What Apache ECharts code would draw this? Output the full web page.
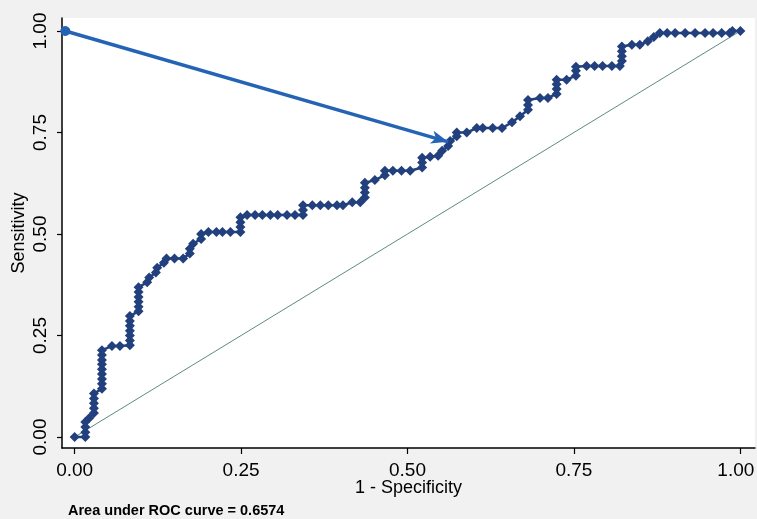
<!DOCTYPE html>
<html>
<head>
<meta charset="utf-8">
<script src="https://cdn.jsdelivr.net/npm/echarts@6/dist/echarts.min.js"></script>
<style>
html,body{margin:0;padding:0;background:#f1f1f1;}
#c{width:757px;height:519px;}
</style>
</head>
<body>
<div id="c"></div>
<script>
const tickValues = [0, 0.25, 0.5, 0.75, 1];
const rocX = [0.000,0.016,0.016,0.016,0.016,0.022,0.029,0.029,0.029,0.029,0.029,0.041,0.041,0.041,0.041,0.041,0.041,0.041,0.041,0.041,
0.056,0.068,0.083,0.083,0.083,0.083,0.083,0.083,0.083,0.096,0.096,0.096,0.096,0.096,0.096,0.109,0.112,0.122,0.124,0.134,
0.138,0.150,0.163,0.173,0.173,0.178,0.190,0.190,0.201,0.213,0.222,0.234,0.249,0.249,0.249,0.249,0.259,0.271,0.282,0.294,
0.305,0.319,0.331,0.343,0.343,0.343,0.357,0.369,0.381,0.394,0.403,0.417,0.429,0.436,0.436,0.436,0.436,0.451,0.466,0.466,
0.478,0.491,0.504,0.522,0.522,0.522,0.534,0.546,0.552,0.561,0.564,0.574,0.574,0.589,0.604,0.613,0.628,0.642,0.657,0.669,
0.681,0.681,0.681,0.699,0.711,0.724,0.724,0.724,0.724,0.739,0.753,0.753,0.753,0.769,0.781,0.793,0.807,0.819,0.822,0.822,
0.822,0.822,0.837,0.849,0.861,0.870,0.879,0.890,0.902,0.917,0.932,0.947,0.959,0.972,0.984,0.988,1.000];
const rocY = [0.000,0.000,0.012,0.025,0.037,0.047,0.059,0.071,0.083,0.095,0.107,0.119,0.131,0.143,0.155,0.167,0.179,0.190,0.202,0.214,
0.224,0.224,0.226,0.238,0.250,0.262,0.274,0.286,0.298,0.310,0.321,0.333,0.345,0.357,0.369,0.381,0.393,0.405,0.417,0.429,
0.440,0.440,0.440,0.452,0.464,0.476,0.488,0.500,0.505,0.505,0.505,0.505,0.505,0.517,0.529,0.541,0.547,0.547,0.547,0.547,
0.547,0.547,0.547,0.547,0.559,0.571,0.571,0.571,0.571,0.571,0.571,0.578,0.578,0.590,0.602,0.614,0.626,0.633,0.645,0.656,
0.656,0.656,0.656,0.664,0.676,0.688,0.690,0.693,0.705,0.717,0.729,0.741,0.750,0.750,0.761,0.761,0.761,0.761,0.775,0.790,
0.806,0.818,0.830,0.835,0.835,0.845,0.857,0.869,0.880,0.880,0.890,0.902,0.912,0.914,0.914,0.914,0.914,0.914,0.926,0.938,
0.950,0.962,0.966,0.966,0.975,0.985,0.995,0.995,0.995,0.995,0.995,0.995,0.995,0.995,0.995,1.000,1.000];
const refX = [0, 1];
const refY = [0, 1];
const arrowStart = [-0.014, 1.0];
const arrowEnd = [0.561, 0.727];
const aucText = 'Area under ROC curve = 0.6574';

const rocData = rocX.map((x, i) => [x, rocY[i]]);
const refData = refX.map((x, i) => [x, refY[i]]);

const chart = echarts.init(document.getElementById('c'), null, {renderer: 'canvas'});
const fam = '"Liberation Sans", Arial, sans-serif';
chart.setOption({
  animation: false,
  backgroundColor: '#f1f1f1',
  textStyle: {fontFamily: fam, color: '#000'},
  grid: {left: 62, right: 2, top: 18, bottom: 71, show: true, backgroundColor: '#ffffff', borderWidth: 0,
    containLabel: false, outerBoundsMode: 'none'},
  xAxis: {
    type: 'value', min: -0.019, max: 1.022,
    name: '1 - Specificity', nameLocation: 'middle', nameGap: 31, nameMoveOverlap: false,
    nameTextStyle: {fontSize: 18, color: '#000', fontFamily: fam},
    axisLine: {show: true, onZero: false, lineStyle: {color: '#000', width: 1.5}},
    axisTick: {show: true, length: 6, customValues: tickValues, lineStyle: {color: '#000', width: 1.2}},
    axisLabel: {customValues: tickValues, fontSize: 19, color: '#000', margin: 13, fontFamily: fam,
      formatter: v => v === 1 ? '{r|' + v.toFixed(2) + '}' : v.toFixed(2),
      rich: {r: {fontSize: 19, color: '#000', fontFamily: fam, padding: [0, 9, 0, 0]}}},
    splitLine: {show: false}
  },
  yAxis: {
    type: 'value', min: -0.027, max: 1.032,
    name: 'Sensitivity', nameLocation: 'middle', nameGap: 34, nameRotate: 90, nameMoveOverlap: false,
    nameTextStyle: {fontSize: 18, color: '#000', fontFamily: fam},
    axisLine: {show: true, onZero: false, lineStyle: {color: '#000', width: 1.5}},
    axisTick: {show: true, length: 5, customValues: tickValues, lineStyle: {color: '#000', width: 1.2}},
    axisLabel: {customValues: tickValues, fontSize: 19, color: '#000', margin: 12, rotate: 90, fontFamily: fam,
      formatter: v => v.toFixed(2)},
    splitLine: {show: false}
  },
  graphic: [{
    type: 'text', left: 68, top: 503,
    style: {text: aucText, font: 'bold 14.5px ' + fam, fill: '#000'}
  }],
  series: [
    {
      type: 'line', data: refData, symbol: 'none', z: 1,
      lineStyle: {color: '#5b8c84', width: 1}
    },
    {
      type: 'line', data: rocData, symbol: 'diamond', symbolSize: 10, z: 2,
      itemStyle: {color: '#22407d'},
      lineStyle: {color: '#22407d', width: 2.5}
    },
    {
      type: 'line', data: [], z: 3,
      markLine: {
        silent: true, symbol: ['circle', 'arrow'], symbolSize: [10, 17],
        label: {show: false},
        lineStyle: {color: '#2563b5', width: 3.5, type: 'solid'},
        data: [[{coord: arrowStart}, {coord: arrowEnd}]]
      }
    }
  ]
});
</script>
</body>
</html>
